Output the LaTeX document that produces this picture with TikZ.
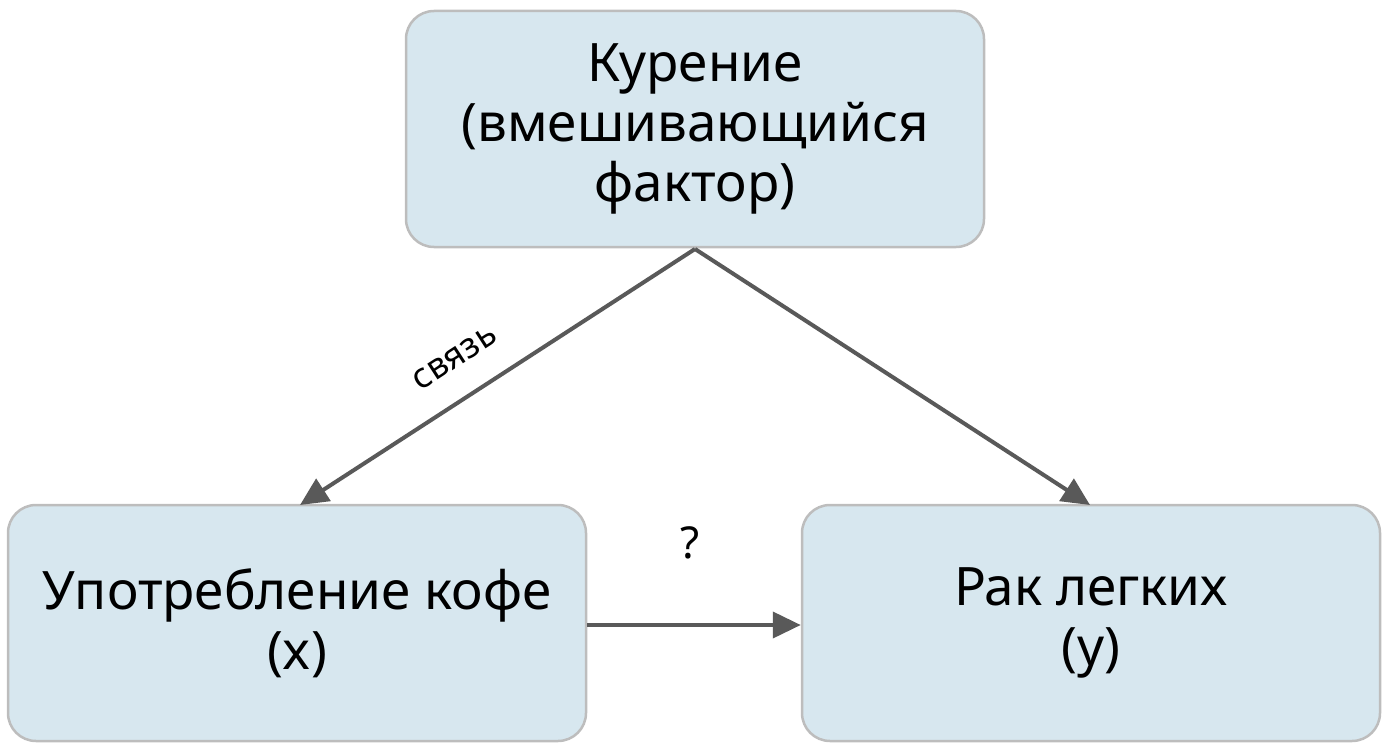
\documentclass[tikz,border=0pt]{standalone}
\usepackage{fontspec}
\setmainfont{Noto Sans}
\usetikzlibrary{arrows.meta}
\definecolor{boxfill}{HTML}{D7E7EF}
\definecolor{boxline}{HTML}{BDBDBD}
\definecolor{arr}{HTML}{595959}
\begin{document}
\begin{tikzpicture}[x=1pt,y=-1pt,
  box/.style={draw=boxline,line width=2.5pt,fill=boxfill,rounded corners=28pt,minimum width=578pt,minimum height=236pt,align=center,font=\fontsize{53}{60}\selectfont},
  link/.style={draw=arr,line width=4pt,-{Triangle[length=28pt,width=26pt]}}]
\useasboundingbox (0,0) rectangle (1382,752);
\node[box] (c) at (695,129) {Курение\\(вмешивающийся\\фактор)};
\node[box] (x) at (297,623) {Употребление кофе\\(x)};
\node[box] (y) at (1091,623) {Рак легких\\(y)};
\coordinate (cb) at (695,249);
\coordinate (xt) at (300,505);
\coordinate (yt) at (1090,505);
\draw[link] (cb) -- (xt);
\draw[link] (cb) -- (yt);
\draw[link] (x.east |- 0,625) -- (y.west |- 0,625);
\node[font=\fontsize{35}{40}\selectfont,rotate=33] (s) at (455,358) {связь};
\node[font=\fontsize{44}{50}\selectfont] (q) at (690,543) {?};
\end{tikzpicture}
\end{document}
